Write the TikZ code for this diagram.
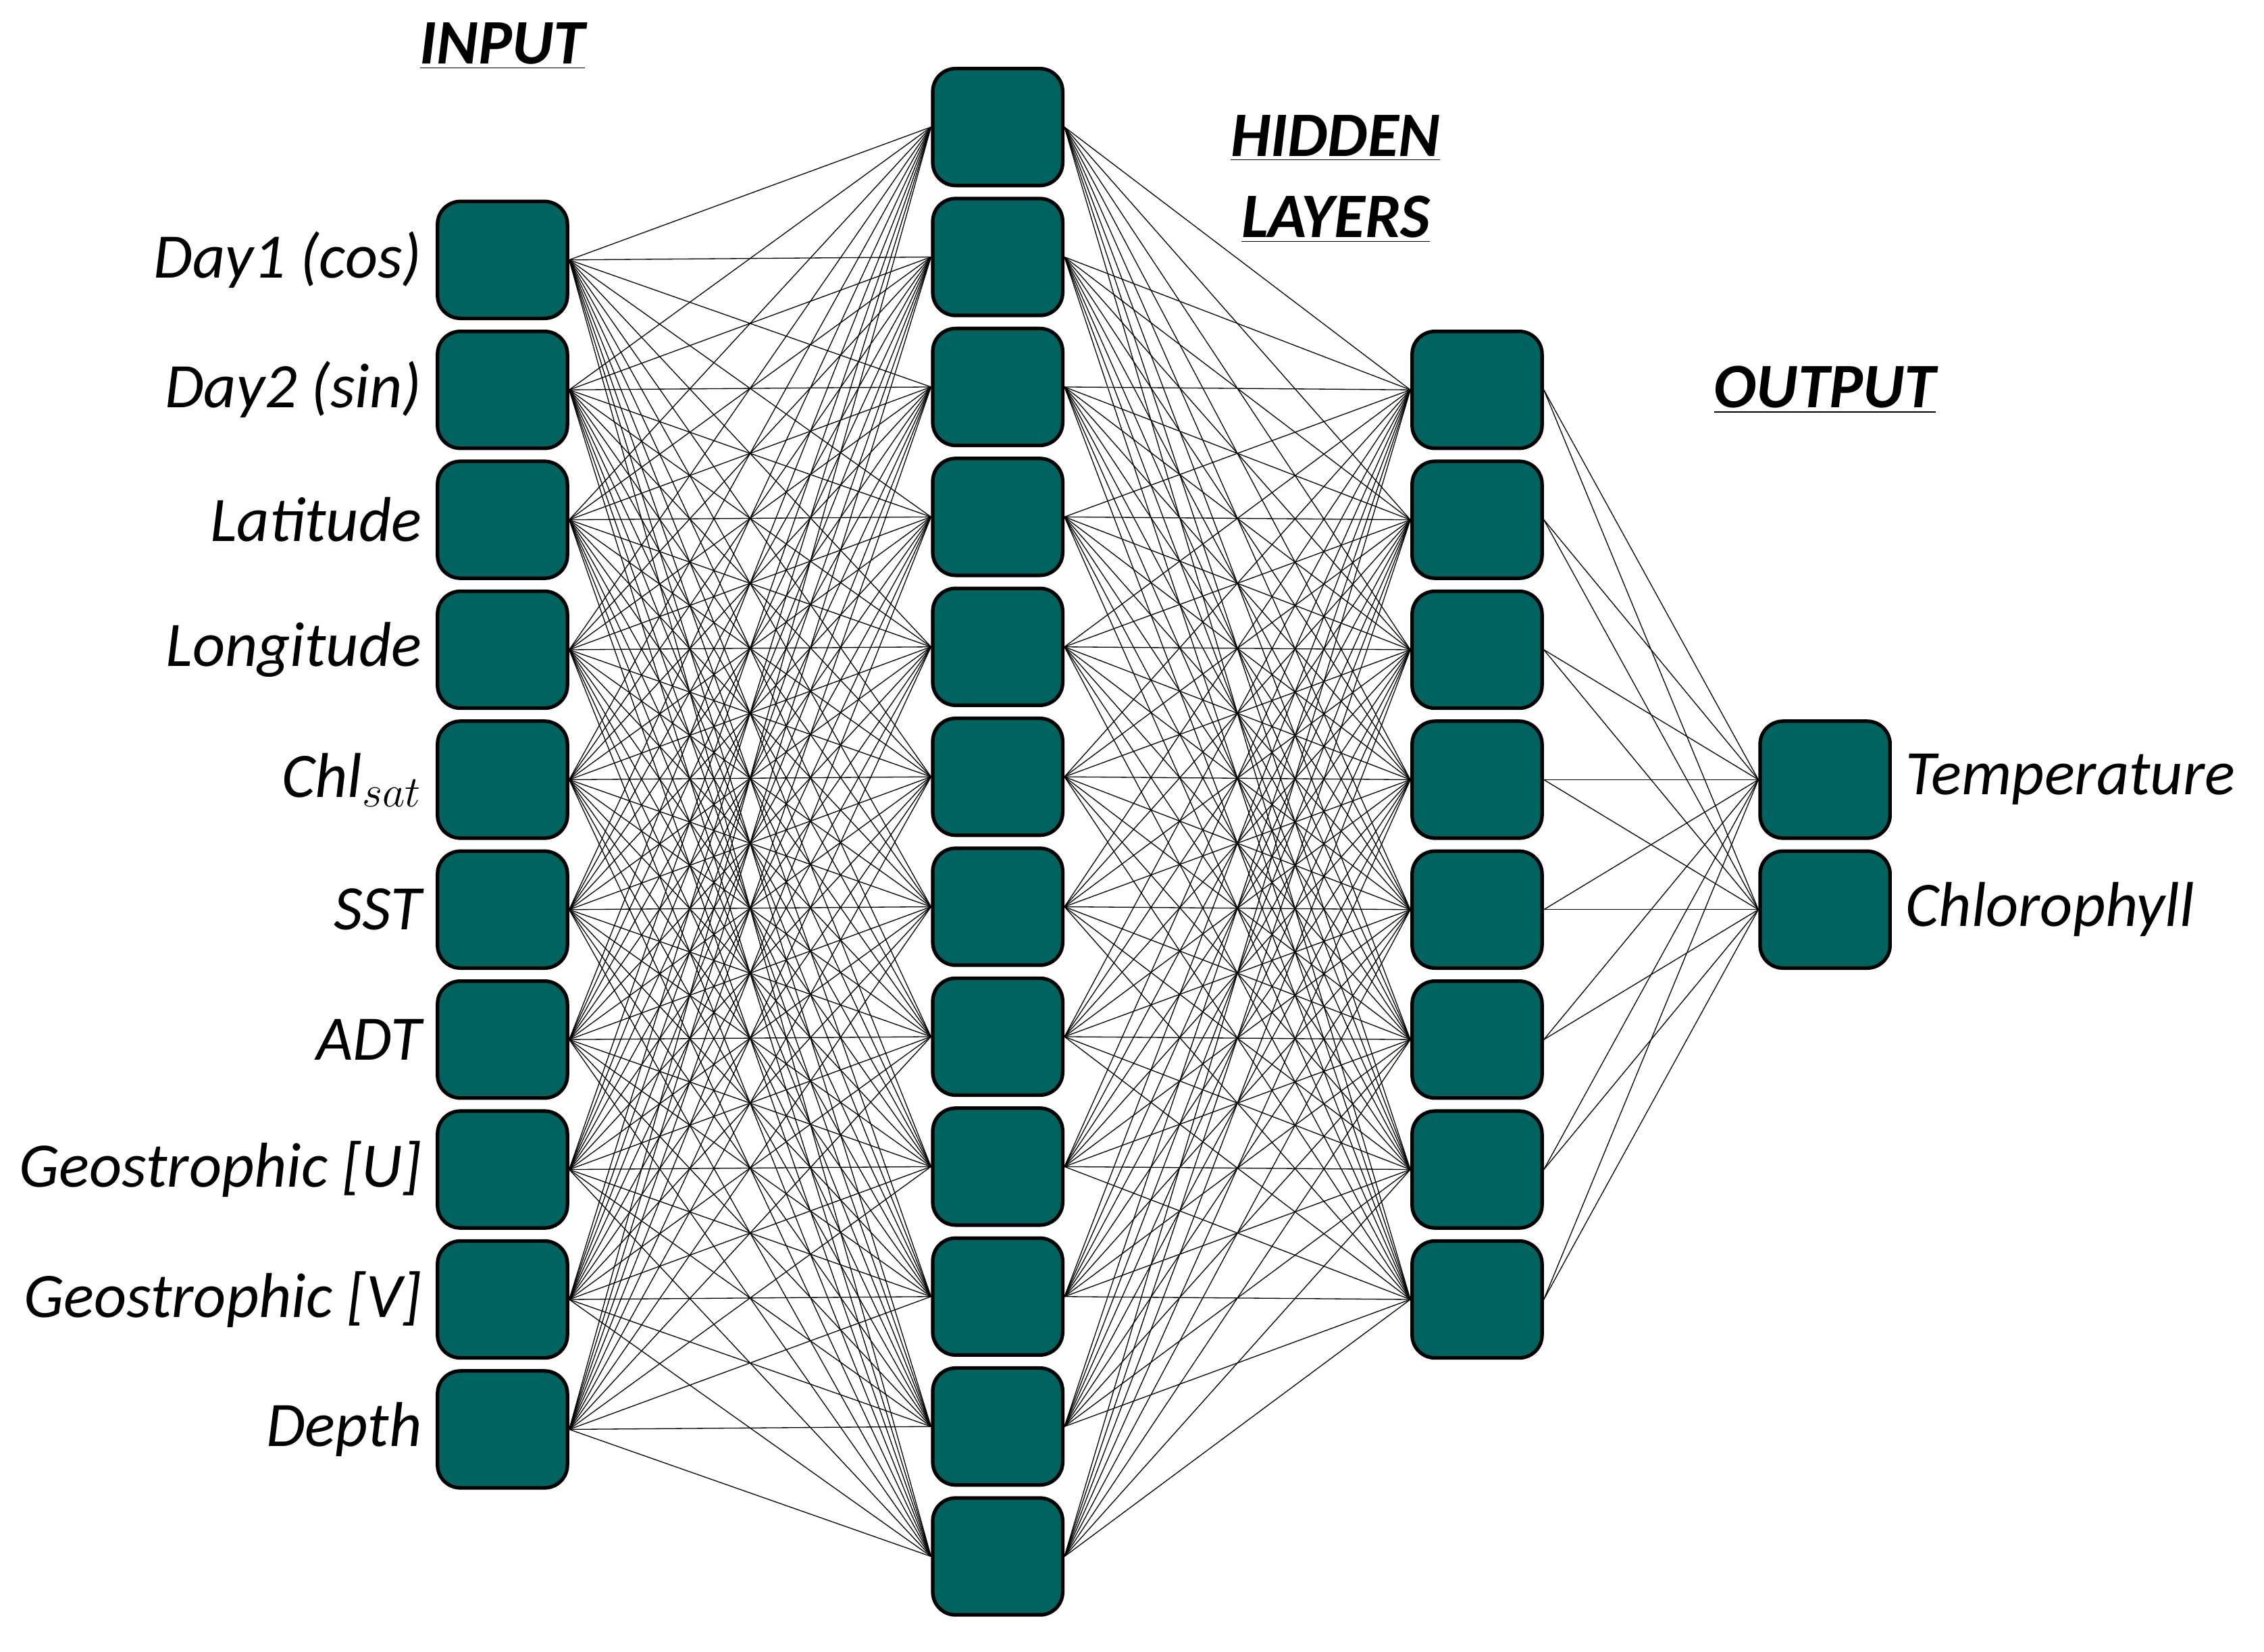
\documentclass[tikz,border=0pt]{standalone}
\usepackage{fontspec}
\setmainfont{Carlito}
\usepackage{xcolor}
\usepackage{tikz}
\usetikzlibrary{positioning}
\definecolor{nodeteal}{RGB}{0,99,95}
\tikzset{
  unit/.style={draw=black, line width=1.4pt, fill=nodeteal, rounded corners=9pt,
    minimum width=1.8cm, minimum height=1.62cm, inner sep=0pt},
  link/.style={black, line width=0.35pt},
  lbl/.style={font=\fontsize{25}{30}\selectfont\itshape},
  ttl/.style={font=\fontsize{25}{30}\selectfont\bfseries\itshape, align=center}
}
\begin{document}
\begin{tikzpicture}[x=0.02cm,y=-0.02cm]
                \useasboundingbox (0,0) rectangle (1568,1144);
                % Input layer
                \foreach \t [count=\i] in {Day1 (cos),Day2 (sin),Latitude,Longitude,Chl$_{sat}$,SST,ADT,Geostrophic [U],Geostrophic [V],Depth}
                  {\node[unit] (i\i) at (348, 90+90*\i) {};
                   \node[lbl, left=2pt of i\i] {\t};}
                % Hidden layers
                \foreach \j in {1,...,12}
                  \node[unit] (ha\j) at (691, -2+90*\j) {};
                \foreach \k in {1,...,8}
                  \node[unit] (hb\k) at (1023, 180+90*\k) {};
                % Output layer
                \node[unit] (o1) at (1264, 540) {};
                \node[unit] (o2) at (1264, 630) {};
                \node[lbl, right=2pt of o1] {Temperature};
                \node[lbl, right=2pt of o2] {Chlorophyll};
                
                % Connections
                \foreach \i in {1,...,10}
                  \foreach \j in {1,...,12}
                    \draw[link] (i\i.east) -- (ha\j.west);
                \foreach \j in {1,...,12}
                  \foreach \k in {1,...,8}
                    \draw[link] (ha\j.east) -- (hb\k.west);
                \foreach \k in {1,...,8}
                  \foreach \m in {1,2}
                    \draw[link] (hb\k.east) -- (o\m.west);
                
                % Titles
                \node[ttl] (tin) at (348, 32) {\underline{INPUT}};
                \node[ttl] (thid) at (925, 124) {\underline{HIDDEN}\\[2pt]\underline{LAYERS}};
                \node[ttl] (tout) at (1264, 270) {\underline{OUTPUT}};
\end{tikzpicture}
\end{document}
